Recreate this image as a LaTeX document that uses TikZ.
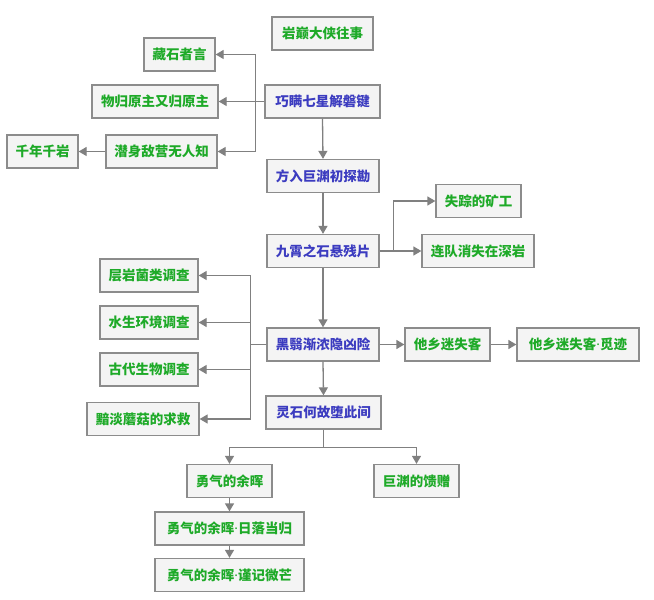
\documentclass[tikz,border=0pt]{standalone}
\usepackage{fontspec}
\newfontfamily\cjk{Noto Sans CJK SC}
\newfontfamily\latf{Noto Sans}
\newcommand{\mdot}{{\latf\bfseries ·}}
\usetikzlibrary{arrows.meta}
\definecolor{bxfill}{HTML}{F4F4F4}
\definecolor{bxdraw}{HTML}{8C8C8C}
\definecolor{bluet}{HTML}{3C3CC0}
\definecolor{greent}{HTML}{1EAA28}
\definecolor{lnc}{HTML}{808080}
\tikzset{
  bx/.style={draw=bxdraw, fill=bxfill, line width=1.3bp, minimum height=33bp, inner sep=0pt, font=\cjk\bfseries\fontsize{13.5bp}{15bp}\selectfont},
  bl/.style={bx, text=bluet},
  gr/.style={bx, text=greent},
  arr/.style={draw=lnc, line width=1.3bp, -{Triangle[width=9bp,length=8bp]}},
}
\begin{document}
\begin{tikzpicture}[x=1bp,y=-1bp]
\useasboundingbox[fill=white] (0,0) rectangle (654,600);
\node[gr, minimum width=101bp] (yd) at (322.5,33.5) {岩巅大侠往事};
\node[gr, minimum width=71bp] (cs) at (179.5,54.5) {藏石者言};
\node[gr, minimum width=126bp] (wg) at (155,101.5) {物归原主又归原主};
\node[bl, minimum width=115bp] (qm) at (322.5,101.5) {巧瞒七星解磐键};
\node[gr, minimum width=71bp] (qn) at (42.5,151.5) {千年千岩};
\node[gr, minimum width=111bp] (qs) at (161.5,151.5) {潜身敌营无人知};
\node[bl, minimum width=112bp] (fr) at (323,176) {方入巨渊初探勘};
\node[bl, minimum width=112bp] (jx) at (323,251) {九霄之石悬残片};
\node[gr, minimum width=85bp] (sz) at (478.5,201) {失踪的矿工};
\node[gr, minimum width=112bp] (ld) at (478,251) {连队消失在深岩};
\node[bl, minimum width=112bp] (hy) at (323,344.5) {黑翳渐浓隐凶险};
\node[gr, minimum width=85bp] (tx) at (447.5,344.5) {他乡迷失客};
\node[gr, minimum width=122bp] (mj) at (578,344.5) {他乡迷失客\mdot 觅迹};
\node[gr, minimum width=98bp] (cy) at (149,275.5) {层岩菌类调查};
\node[gr, minimum width=98bp] (ss) at (149,322.5) {水生环境调查};
\node[gr, minimum width=98bp] (gd) at (149,369.5) {古代生物调查};
\node[gr, minimum width=112bp] (ad) at (143,419) {黯淡蘑菇的求救};
\node[bl, minimum width=115bp] (ls) at (323.5,412.5) {灵石何故堕此间};
\node[gr, minimum width=85bp] (yq) at (229.5,481) {勇气的余晖};
\node[gr, minimum width=85bp] (jy) at (416.5,481) {巨渊的馈赠};
\node[gr, minimum width=149bp] (rl) at (229.5,528.5) {勇气的余晖\mdot 日落当归};
\node[gr, minimum width=149bp] (jj) at (229.5,575) {勇气的余晖\mdot 谨记微芒};
% connectors
\draw[arr] (qm.west) -- ++(-9,0) |- (cs.east);
\draw[arr] (qm.west) -- (wg.east);
\draw[arr] (qm.west) -- ++(-9,0) |- (qs.east);
\draw[arr] (qs.west) -- (qn.east);
\draw[arr] (qm.south) -- (fr.north);
\draw[arr] (fr.south) -- (jx.north);
\draw[arr] (jx.east) -- ++(14,0) |- (sz.west);
\draw[arr] (jx.east) -- (ld.west);
\draw[arr] (jx.south) -- (hy.north);
\draw[arr] (hy.west) -- ++(-16,0) |- (cy.east);
\draw[arr] (hy.west) -- ++(-16,0) |- (ss.east);
\draw[arr] (hy.west) -- ++(-16,0) |- (gd.east);
\draw[arr] (hy.west) -- ++(-16,0) |- (ad.east);
\draw[arr] (hy.east) -- (tx.west);
\draw[arr] (tx.east) -- (mj.west);
\draw[arr] (hy.south) -- (ls.north);
\draw[arr] (ls.south) -- ++(0,18) -| (yq.north);
\draw[arr] (ls.south) -- ++(0,18) -| (jy.north);
\draw[arr] (yq.south) -- (rl.north);
\draw[arr] (rl.south) -- (jj.north);
\end{tikzpicture}
\end{document}
